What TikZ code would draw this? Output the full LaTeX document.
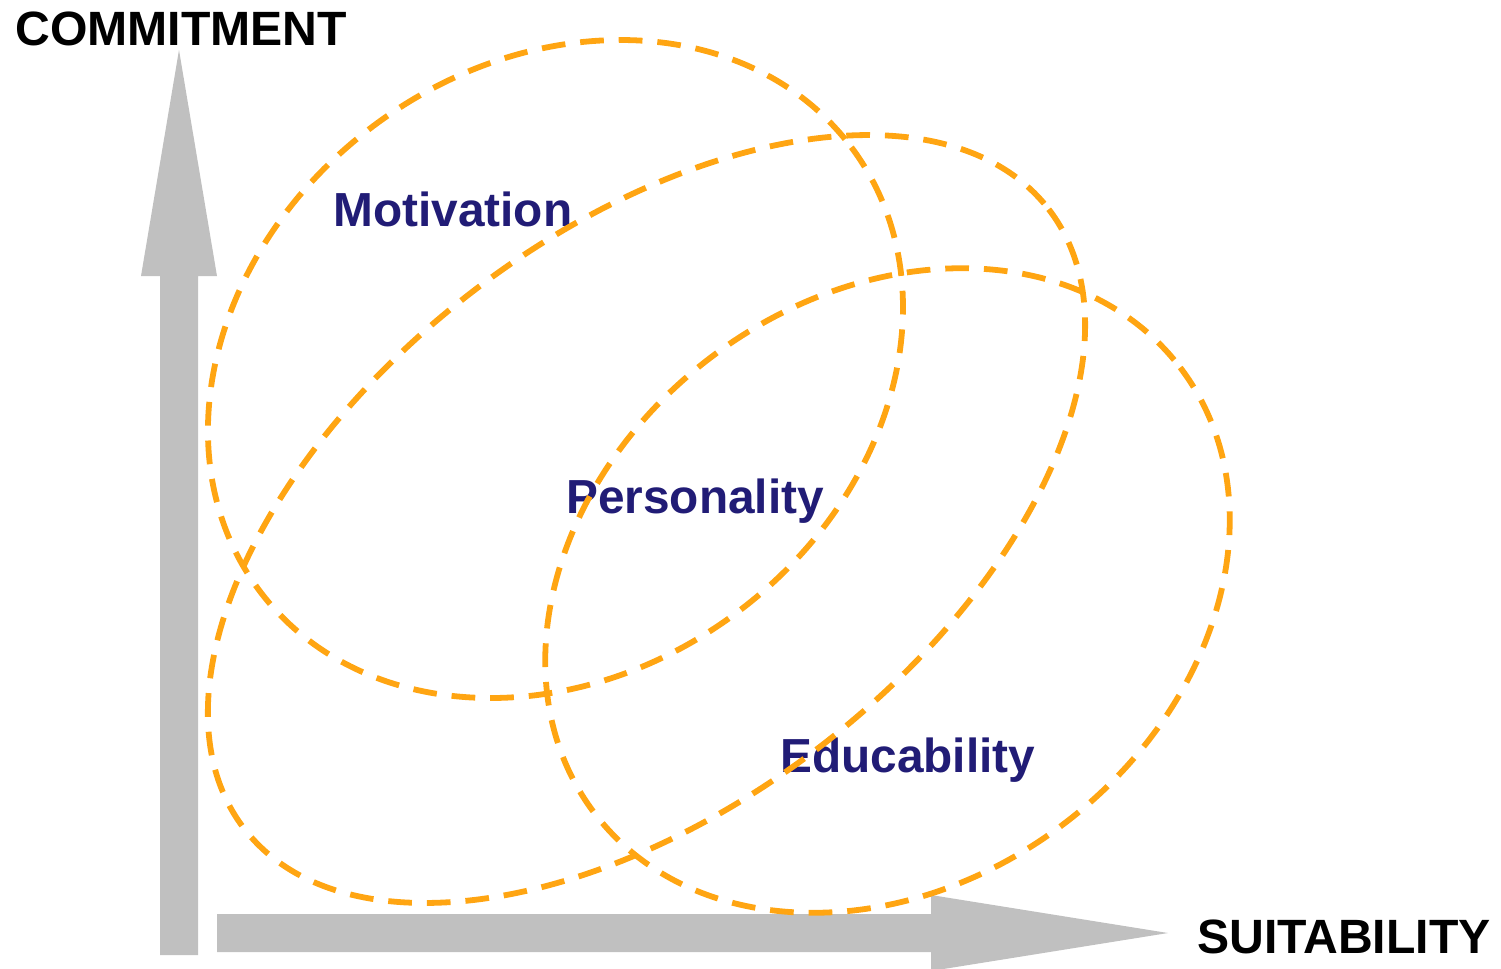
\documentclass[tikz,border=0pt]{standalone}
\usepackage{fontspec}
\setmainfont{Liberation Sans}
\definecolor{dashorange}{HTML}{FFA512}
\definecolor{axisgrey}{HTML}{C0C0C0}
\definecolor{labelnavy}{HTML}{211C76}
\tikzset{
  ell/.style={draw=dashorange, line width=3.3pt, dash pattern=on 13.5pt off 8.5pt},
  axisarrow/.style={fill=axisgrey, draw=none},
  axislabel/.style={anchor=base west, inner sep=0pt, font=\fontsize{27.4}{32}\selectfont\bfseries, text=black},
  setlabel/.style={anchor=base west, inner sep=0pt, font=\fontsize{27.2}{32}\selectfont\bfseries, text=labelnavy}
}
\begin{document}
\begin{tikzpicture}[x=0.02cm, y=-0.02cm]
\useasboundingbox (0,0) rectangle (1501,968);
% axes
\fill[axisarrow] (160,955) -- (160,276) -- (141,276) -- (179,50) -- (217,276) -- (198,276) -- (198,955) -- cycle;
\fill[axisarrow] (217,914) -- (931,914) -- (931,895) -- (1168,933) -- (931,971) -- (931,952) -- (217,952) -- cycle;
% axis labels
\node[axislabel] (commit) at (15,45) {COMMITMENT};
\node[axislabel] (suit) at (1197,953) {SUITABILITY};
% set labels
\node[setlabel] (motiv) at (333,226) {Motivation};
\node[setlabel] (person) at (566,513) {Personality};
\node[setlabel] (educ) at (780,772) {Educability};
% ellipses
\coordinate (cA) at (555.5,369);
\coordinate (cB) at (646.5,519);
\coordinate (cC) at (887.5,590.5);
\draw[ell, rotate around={36.85:(cA)}] (cA) ellipse [x radius=369.8, y radius=303.7];
\draw[ell, rotate around={37.6:(cB)}] (cB) ellipse [x radius=507.7, y radius=286.3];
\draw[ell, rotate around={37.3:(cC)}] (cC) ellipse [x radius=368, y radius=292.5];
\end{tikzpicture}
\end{document}
